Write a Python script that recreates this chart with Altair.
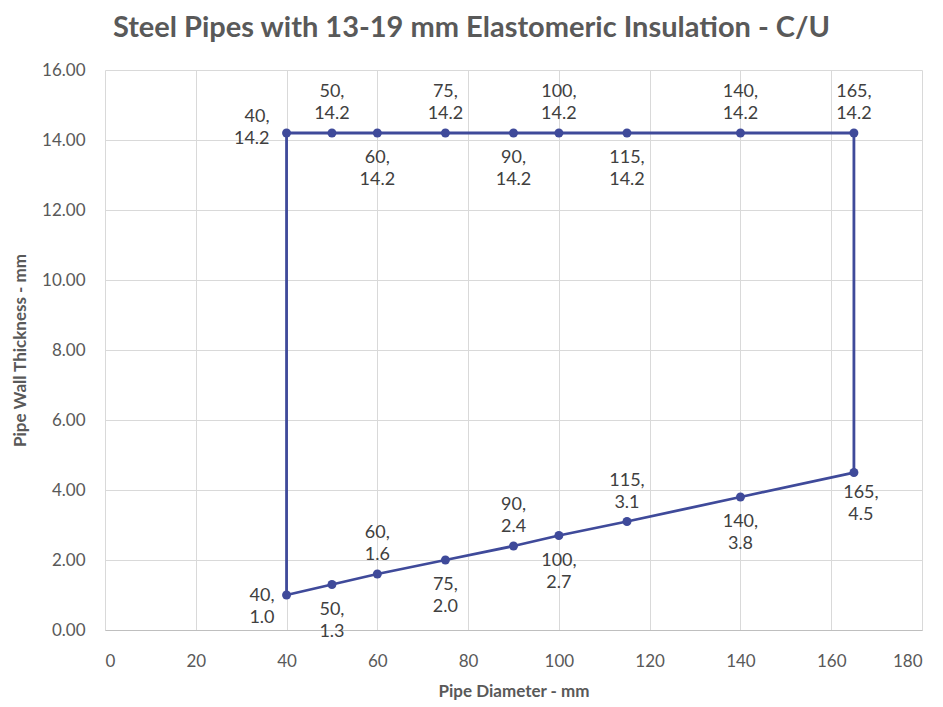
import altair as alt
import pandas as pd

# ---- data ----
diam = [40, 50, 60, 75, 90, 100, 115, 140, 165]
lower = [1.0, 1.3, 1.6, 2.0, 2.4, 2.7, 3.1, 3.8, 4.5]
upper = [14.2, 14.2, 14.2, 14.2, 14.2, 14.2, 14.2, 14.2, 14.2]
lower_label_pos = ["left_low", "below", "above", "below", "above", "below", "above", "below", "below_right"]
upper_label_pos = ["left_up", "above", "below", "above", "below", "above", "below", "above", "above"]

title = "Steel Pipes with 13-19 mm Elastomeric Insulation - C/U"
x_title = "Pipe Diameter - mm"
y_title = "Pipe Wall Thickness - mm"

FONT = "Lato"
LINE_COLOR = "#3F4A9A"

# closed outline: lower series, up the right side, back along the top, down the left side
line_x = diam + diam[::-1] + [diam[0]]
line_y = lower + upper[::-1] + [lower[0]]
line_df = pd.DataFrame({"x": line_x, "y": line_y, "order": list(range(len(line_x)))})

pts_df = pd.DataFrame({
    "x": diam + diam,
    "y": lower + upper,
    "pos": lower_label_pos + upper_label_pos,
})
pts_df["label"] = [f"{x},\n{y:.1f}" for x, y in zip(pts_df["x"], pts_df["y"])]

x_enc = alt.X("x:Q", scale=alt.Scale(domain=[0, 180], nice=False, zero=False),
              axis=alt.Axis(values=list(range(0, 181, 20)), title=x_title))
y_enc = alt.Y("y:Q", scale=alt.Scale(domain=[0, 16], nice=False),
              axis=alt.Axis(values=[0, 2, 4, 6, 8, 10, 12, 14, 16], format=".2f", title=y_title))

line = alt.Chart(line_df).mark_line(color=LINE_COLOR, strokeWidth=2.8).encode(
    x=x_enc, y=y_enc, order="order:Q")

points = alt.Chart(pts_df).mark_circle(color=LINE_COLOR, size=80, opacity=1).encode(
    x="x:Q", y="y:Q")

offsets = {
    "above": dict(align="center", dx=0, dy=-41),
    "below": dict(align="center", dx=0, dy=25),
    "left_up": dict(align="right", dx=-17, dy=-16),
    "left_low": dict(align="right", dx=-12, dy=1),
    "below_right": dict(align="center", dx=7, dy=20),
}

text_layers = []
for name, o in offsets.items():
    text_layers.append(
        alt.Chart(pts_df).transform_filter(alt.datum.pos == name).mark_text(
            font=FONT, fontSize=18, color="#404040", lineBreak="\n", lineHeight=22,
            baseline="middle", **o
        ).encode(x="x:Q", y="y:Q", text="label:N")
    )

chart = alt.layer(line, points, *text_layers).properties(
    width=817, height=560,
    title=alt.TitleParams(title, font=FONT, fontSize=29, fontWeight="bold", color="#595959",
                          anchor="middle", dx=-42, offset=18),
    padding={"left": 97, "top": 62, "right": 13, "bottom": 76},
    autosize=alt.AutoSizeParams(type="none"),
).configure_view(stroke=None).configure_axis(
    grid=True, gridColor="#D9D9D9", gridWidth=1, ticks=False, domain=False,
    labelFont=FONT, labelFontSize=17, labelColor="#595959", labelPadding=20,
    titleFont=FONT, titleFontSize=17, titleFontWeight="bold", titleColor="#595959",
).configure_axisX(
    domain=True, domainColor="#BFBFBF", titlePadding=14, labelPadding=23
).configure_axisY(titlePadding=12)

chart.save("out.html", embed_options={"renderer": "svg", "actions": False})
